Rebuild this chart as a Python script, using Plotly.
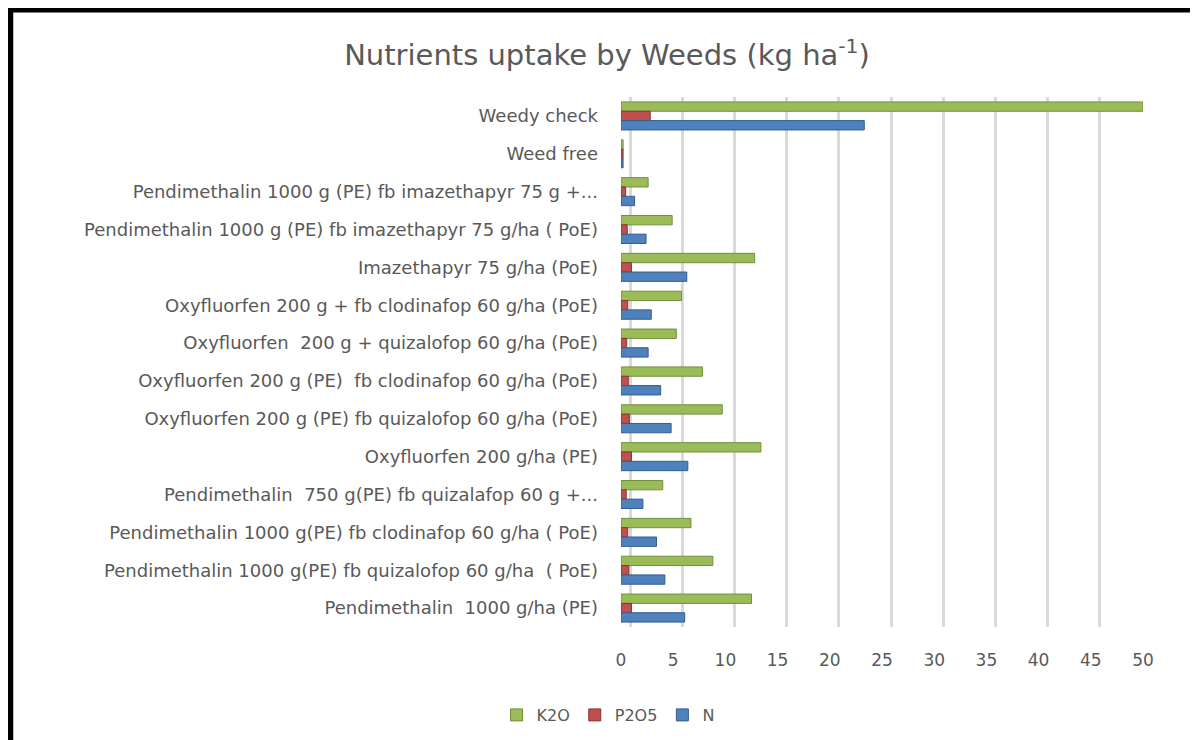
import plotly.graph_objects as go

categories = [
    "Weedy check",
    "Weed free",
    "Pendimethalin 1000 g (PE) fb imazethapyr 75 g +...",
    "Pendimethalin 1000 g (PE) fb imazethapyr 75 g/ha ( PoE)",
    "Imazethapyr 75 g/ha (PoE)",
    "Oxyfluorfen 200 g + fb clodinafop 60 g/ha (PoE)",
    "Oxyfluorfen  200 g + quizalofop 60 g/ha (PoE)",
    "Oxyfluorfen 200 g (PE)  fb clodinafop 60 g/ha (PoE)",
    "Oxyfluorfen 200 g (PE) fb quizalofop 60 g/ha (PoE)",
    "Oxyfluorfen 200 g/ha (PE)",
    "Pendimethalin  750 g(PE) fb quizalafop 60 g +...",
    "Pendimethalin 1000 g(PE) fb clodinafop 60 g/ha ( PoE)",
    "Pendimethalin 1000 g(PE) fb quizalofop 60 g/ha  ( PoE)",
    "Pendimethalin  1000 g/ha (PE)",
]
k2o = [50.0, 0.2, 2.6, 4.9, 12.8, 5.8, 5.3, 7.8, 9.7, 13.4, 4.0, 6.7, 8.8, 12.5]
p2o5 = [2.8, 0.2, 0.45, 0.6, 1.0, 0.65, 0.55, 0.7, 0.8, 1.0, 0.5, 0.65, 0.75, 1.0]
n = [23.3, 0.2, 1.3, 2.4, 6.3, 2.9, 2.6, 3.8, 4.8, 6.4, 2.1, 3.4, 4.2, 6.1]
x_ticks = [0, 5, 10, 15, 20, 25, 30, 35, 40, 45, 50]

FONT = "DejaVu Sans"
GREY = "#595959"

fig = go.Figure()
series = [("K2O", k2o, "#9BBB59", "#71903A"),
          ("P2O5", p2o5, "#C0504D", "#8C3331"),
          ("N", n, "#4F81BD", "#345C8C")]
for name, vals, col, edge in series:
    fig.add_trace(go.Bar(
        y=categories, x=vals, name=name, orientation="h",
        marker=dict(color=col, line=dict(color=edge, width=1)),
    ))

# back-wall gridlines (3D offset) on an overlaying axis
fig.add_trace(go.Scatter(x=[0], y=[categories[0]], xaxis="x2", mode="markers",
                         marker=dict(opacity=0), showlegend=False, hoverinfo="skip"))

# page is offset by the 8px body margin
W, H = 1190, 732
L, R, T, B = 613, 1135, 89, 619
pw, ph = R - L, B - T
off = 9 / (pw / 50)
n_cat = len(categories)

fig.update_layout(
    width=W, height=H,
    margin=dict(l=L, r=W - R, t=T, b=H - B, autoexpand=False),
    paper_bgcolor="white", plot_bgcolor="white",
    barmode="group", bargap=0.26, bargroupgap=0.0,
    title=dict(text="Nutrients uptake by Weeds (kg ha<sup>-1</sup>)",
               x=599 / W, xanchor="center", y=1 - 47 / H, yanchor="middle",
               font=dict(family=FONT, size=29, color=GREY)),
    font=dict(family=FONT, color=GREY),
    xaxis=dict(range=[0, 50], tickvals=x_ticks, showgrid=False, zeroline=False,
               showline=False, ticks="", ticklabelstandoff=21,
               tickfont=dict(family=FONT, size=17, color=GREY)),
    xaxis2=dict(range=[-off, 50 - off], overlaying="x", side="bottom",
                tickvals=x_ticks, showticklabels=False, showgrid=True,
                gridcolor="#D9D9D9", gridwidth=2.5, zeroline=False, layer="below traces"),
    yaxis=dict(categoryorder="array", categoryarray=categories,
               range=[n_cat - 0.5, -0.5], autorange=False,
               showgrid=False, ticks="", showline=False, ticklabelstandoff=22,
               tickfont=dict(family=FONT, size=18, color=GREY)),
    legend=dict(orientation="h", x=(600 - L) / pw, xanchor="center",
                y=(B - 707) / ph, yanchor="middle",
                font=dict(family=FONT, size=16, color=GREY),
                itemwidth=30, traceorder="normal"),
    shapes=[
        dict(type="line", xref="paper", yref="paper",
             x0=(0 - L) / pw, x1=(W + 5 - L) / pw, y0=(B - 2) / ph, y1=(B - 2) / ph,
             line=dict(color="black", width=5)),
        dict(type="line", xref="paper", yref="paper",
             x0=(2.5 - L) / pw, x1=(2.5 - L) / pw, y0=(B + 2) / ph, y1=(B - H - 5) / ph,
             line=dict(color="black", width=5.5)),
    ],
)
fig.write_html("out.html")
